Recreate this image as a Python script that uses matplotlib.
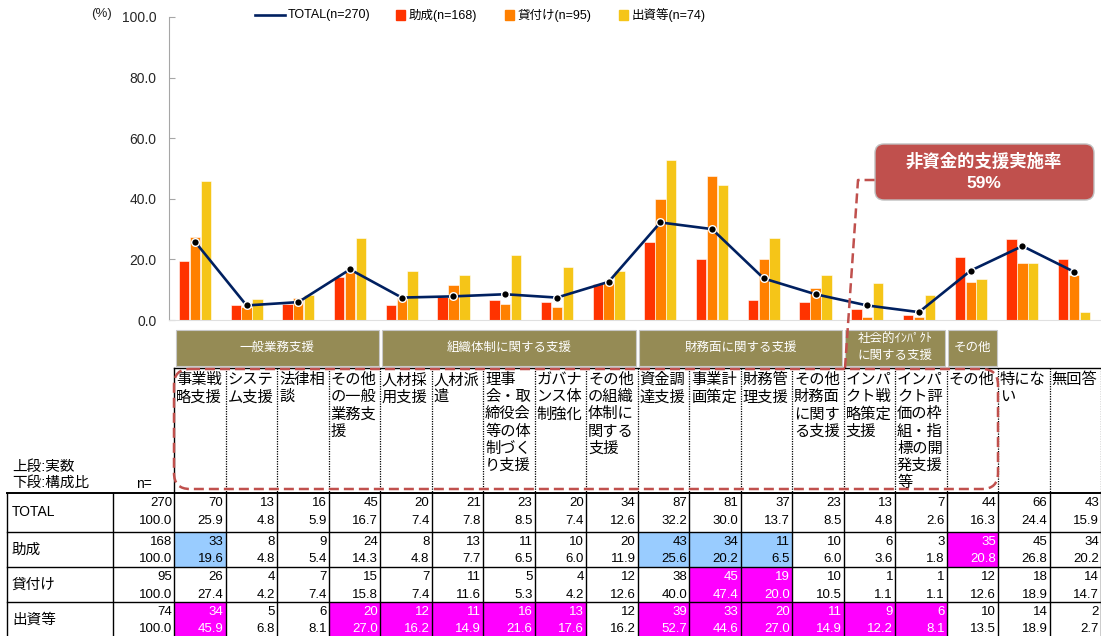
import numpy as np
import matplotlib
matplotlib.use("Agg")
import matplotlib.pyplot as plt
from matplotlib.patches import Rectangle, FancyBboxPatch

plt.rcParams["font.family"] = ["Liberation Sans", "Noto Sans CJK JP"]

# ── data ──────────────────────────────────────────────────────────────────────
items = ["事業戦\n略支援", "システ\nム支援", "法律相\n談", "その他\nの一般\n業務支\n援",
         "人材採\n用支援", "人材派\n遣", "理事\n会・取\n締役会\n等の体\n制づく\nり支援",
         "ガバナ\nンス体\n制強化", "その他\nの組織\n体制に\n関する\n支援",
         "資金調\n達支援", "事業計\n画策定", "財務管\n理支援", "その他\n財務面\nに関す\nる支援",
         "インパ\nクト戦\n略策定\n支援", "インパ\nクト評\n価の枠\n組・指\n標の開\n発支援\n等",
         "その他", "特にな\nい", "無回答"]
groups = [("一般業務支援", 0, 4), ("組織体制に関する支援", 4, 9),
          ("財務面に関する支援", 9, 13), ("社会的ｲﾝﾊﾟｸﾄ\nに関する支援", 13, 15),
          ("その他", 15, 16)]

rows = ["TOTAL", "助成", "貸付け", "出資等"]
n_vals = [270, 168, 95, 74]

cnt_total = [70, 13, 16, 45, 20, 21, 23, 20, 34, 87, 81, 37, 23, 13, 7, 44, 66, 43]
cnt_josei = [33, 8, 9, 24, 8, 13, 11, 10, 20, 43, 34, 11, 10, 6, 3, 35, 45, 34]
cnt_kashi = [26, 4, 7, 15, 7, 11, 5, 4, 12, 38, 45, 19, 10, 1, 1, 12, 18, 14]
cnt_shusshi = [34, 5, 6, 20, 12, 11, 16, 13, 12, 39, 33, 20, 11, 9, 6, 10, 14, 2]

pct_total = [25.9, 4.8, 5.9, 16.7, 7.4, 7.8, 8.5, 7.4, 12.6, 32.2, 30.0, 13.7, 8.5, 4.8, 2.6, 16.3, 24.4, 15.9]
pct_josei = [19.6, 4.8, 5.4, 14.3, 4.8, 7.7, 6.5, 6.0, 11.9, 25.6, 20.2, 6.5, 6.0, 3.6, 1.8, 20.8, 26.8, 20.2]
pct_kashi = [27.4, 4.2, 7.4, 15.8, 7.4, 11.6, 5.3, 4.2, 12.6, 40.0, 47.4, 20.0, 10.5, 1.1, 1.1, 12.6, 18.9, 14.7]
pct_shusshi = [45.9, 6.8, 8.1, 27.0, 16.2, 14.9, 21.6, 17.6, 16.2, 52.7, 44.6, 27.0, 14.9, 12.2, 8.1, 13.5, 18.9, 2.7]

counts = [cnt_total, cnt_josei, cnt_kashi, cnt_shusshi]
pcts = [pct_total, pct_josei, pct_kashi, pct_shusshi]

# highlighted cells (row, col)
blue_cells = [(1, 0), (1, 9), (1, 10), (1, 11)]
pink_cells = [(1, 15), (2, 10), (2, 11), (3, 0), (3, 3), (3, 4), (3, 5), (3, 6), (3, 7),
              (3, 9), (3, 10), (3, 11), (3, 12), (3, 13), (3, 14)]

callout = "非資金的支援実施率\n59%"

# ── styles ────────────────────────────────────────────────────────────────────
NAVY = "#002060"
BAR_COLORS = ["#FF3300", "#FF8000", "#F5C518"]
OLIVE = "#958B55"
DASH_RED = "#C0504D"
W, H = 1101, 636

fig = plt.figure(figsize=(W / 100, H / 100), dpi=100)

# ── chart ─────────────────────────────────────────────────────────────────────
ax = fig.add_axes([169 / W, 1 - 320 / H, (1100 - 169) / W, (320 - 17) / H])
x = np.arange(len(items))
bw = 0.2
for k, (vals, col) in enumerate(zip(pcts[1:], BAR_COLORS)):
    ax.bar(x + (k - 1) * 0.21, vals, bw, color=col, edgecolor="white", linewidth=0.4, zorder=2)
ax.plot(x, pct_total, color=NAVY, lw=1.9, marker="o", ms=5.5, mfc="black",
        mec="white", mew=1.0, zorder=5)
ax.set_xlim(-0.5, len(items) - 0.5)
ax.set_ylim(0, 100)
ax.set_yticks(range(0, 101, 20))
ax.set_yticklabels([f"{v:.1f}" for v in range(0, 101, 20)])
ax.tick_params(axis="y", direction="in", length=4, color="#A6A6A6", pad=9,
               labelsize=10, labelcolor="#262626")
ax.set_xticks([])
for s in ["top", "right"]:
    ax.spines[s].set_visible(False)
ax.spines["left"].set_color("#A6A6A6")
ax.spines["bottom"].set_color("#E0E0E0")
ax.patch.set_alpha(0)

# ── overlay in pixel coordinates ──────────────────────────────────────────────
ov = fig.add_axes([0, 0, 1, 1], zorder=3)
ov.set_xlim(0, W)
ov.set_ylim(H, 0)
ov.axis("off")

ov.text(101, 14, "(%)", ha="center", va="center", fontsize=9.5, color="#262626")

# legend
ov.plot([255, 285], [15, 15], color=NAVY, lw=1.9)
ov.text(288, 15, f"TOTAL(n={n_vals[0]})", va="center", fontsize=9)
for lx, name, n, col in zip([396, 505, 619], rows[1:], n_vals[1:], BAR_COLORS):
    ov.add_patch(Rectangle((lx, 10), 9, 10, color=col))
    ov.text(lx + 13, 15, f"{name}(n={n})", va="center", fontsize=9)

# callout
ov.add_patch(FancyBboxPatch((875, 144), 219, 56, boxstyle="round,pad=0,rounding_size=9",
                            fc=DASH_RED, ec="#BFBFBF", lw=1))
for k, line in enumerate(callout.split("\n")):
    ov.text(984, 161 + 23 * k, line, ha="center", va="center", color="white",
            fontsize=12.5, fontweight="bold")
ov.plot([845, 858, 875], [368, 180, 180], color=DASH_RED, lw=1.8, ls=(0, (4, 2)))

# table geometry
c0, cw = 174, 51.5
col_left = [c0 + cw * i for i in range(len(items) + 1)]

# group bands
for name, a, b in groups:
    l, r = col_left[a], col_left[b]
    ov.add_patch(Rectangle((l + 1.5, 330), r - l - 3, 36, fc=OLIVE, ec="#C8C8C8", lw=0.8))
    lines = name.split("\n")
    for k, line in enumerate(lines):
        ov.text((l + r) / 2, 348 + (k - (len(lines) - 1) / 2) * 16.5, line,
                ha="center", va="center", color="white", fontsize=9)

# header row
for i, txt in enumerate(items):
    for k, line in enumerate(txt.split("\n")):
        ov.text(col_left[i] + 2, 380 + 17.2 * k, line, ha="left", va="center", fontsize=11)
ov.plot([c0, W], [368, 368], color="black", lw=1)
ov.plot([c0, c0], [368, 493], color="black", lw=1)
for xl in col_left[1:]:
    ov.plot([xl, xl], [368, 492], color="black", lw=0.9, ls=(0, (1, 1)))

ov.add_patch(FancyBboxPatch((c0, 369), col_left[16] - c0, 120,
                            boxstyle="round,pad=0,rounding_size=16", fill=False,
                            ec=DASH_RED, lw=1.8, ls=(0, (4, 2)), zorder=6))

ov.text(12, 467, "上段:実数", va="center", fontsize=10.5)
ov.text(12, 483, "下段:構成比", va="center", fontsize=10.5)
ov.text(136, 484, "n=", va="center", fontsize=10)

# data rows
row_edges = [493, 532, 567, 602, 637]
for r, name in enumerate(rows):
    top, bot = row_edges[r], row_edges[r + 1]
    ov.text(12, (top + bot) / 2, name, va="center", fontsize=10 if r == 0 else 10.5)
    ov.text(c0 - 2, top + 10, str(n_vals[r]), ha="right", va="center", fontsize=9.5)
    ov.text(c0 - 2, top + 27.5, "100.0", ha="right", va="center", fontsize=9.5)
    for i in range(len(items)):
        l, rr = col_left[i], col_left[i + 1]
        tc = "black"
        if (r, i) in blue_cells:
            ov.add_patch(Rectangle((l, top), cw, bot - top, fc="#99CCFF", lw=0))
        elif (r, i) in pink_cells:
            ov.add_patch(Rectangle((l, top), cw, bot - top, fc="#FF00FF", lw=0))
            tc = "white"
        ov.text(rr - 2, top + 10, str(counts[r][i]), ha="right", va="center",
                fontsize=9.5, color=tc)
        ov.text(rr - 2, top + 27.5, f"{pcts[r][i]:.1f}", ha="right", va="center",
                fontsize=9.5, color=tc)

for k, y in enumerate(row_edges[:-1]):
    ov.plot([7, W], [y, y], color="black", lw=1.4 if k == 0 else 1.0)
for xl in [7, 113] + col_left:
    ov.plot([xl, xl], [493, H], color="black", lw=1.0)

fig.savefig("out.png", dpi=100)
